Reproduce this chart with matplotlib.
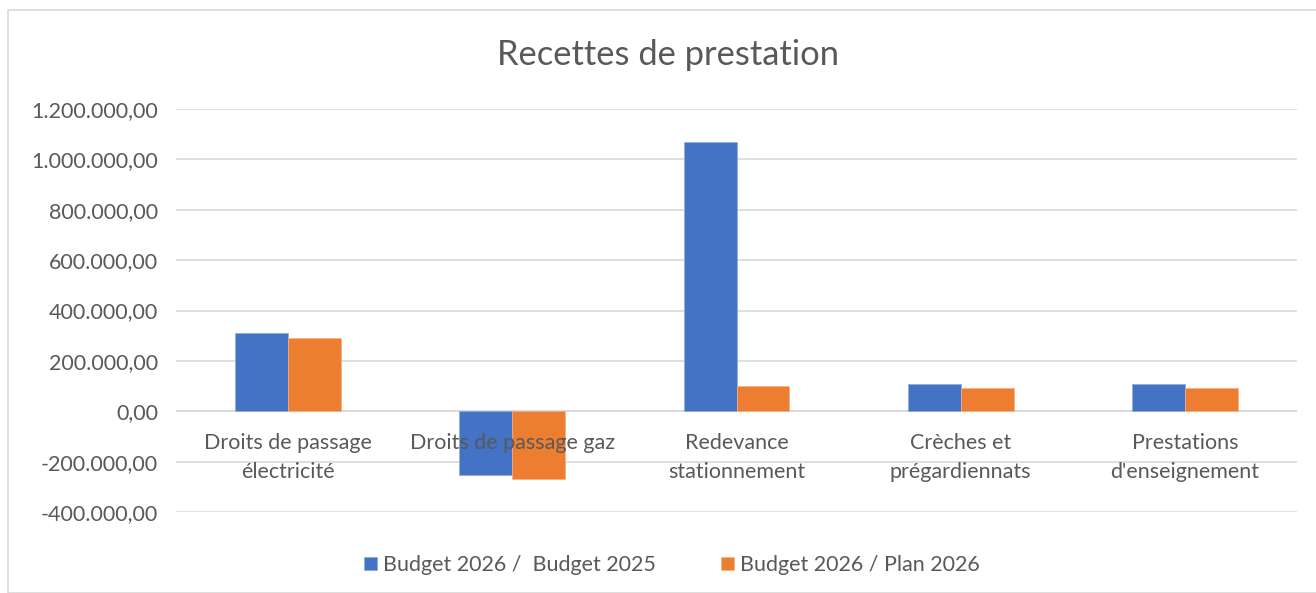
import matplotlib
matplotlib.use("Agg")
import matplotlib.pyplot as plt
import numpy as np
from matplotlib.patches import Rectangle
from matplotlib.ticker import FuncFormatter

categories = ["Droits de passage\nélectricité", "Droits de passage gaz",
              "Redevance\nstationnement", "Crèches et\nprégardiennats",
              "Prestations\nd'enseignement"]
series_names = ["Budget 2026 /  Budget 2025", "Budget 2026 / Plan 2026"]
budget_vs_budget = [310000, -253000, 1070000, 109000, 107000]
budget_vs_plan = [291000, -270000, 100000, 94000, 93000]
colors = ["#4472C4", "#ED7D31"]

plt.rcParams['font.family'] = ['Lato', 'DejaVu Sans']
TXT = "#595959"
GRID = "#D9D9D9"
FS = 15.5

fig = plt.figure(figsize=(13.16, 5.93), dpi=100)
fig.patches.append(Rectangle((8/1316, 0), 1.0, 1 - 10/593, transform=fig.transFigure,
                             fill=False, edgecolor=GRID, linewidth=1.2))
ax = fig.add_axes([176/1316, 1 - 512/593, (1297 - 176)/1316, (512 - 109)/593])

x = np.arange(len(categories))
w = 0.236
ax.bar(x - w/2, budget_vs_budget, w, color=colors[0], label=series_names[0], zorder=3,
       edgecolor="#8FAADC", linewidth=0.5)
ax.bar(x + w/2, budget_vs_plan, w, color=colors[1], label=series_names[1], zorder=3,
       edgecolor="#F4B183", linewidth=0.5)

ax.set_xlim(-0.5, len(categories) - 0.5)
ax.set_ylim(-400000, 1200000)
ax.set_yticks(np.arange(-400000, 1200001, 200000))

def fmt(v, pos):
    s = f"{abs(v):,.2f}".replace(",", "X").replace(".", ",").replace("X", ".")
    return ("-" if v < 0 else "") + s
ax.yaxis.set_major_formatter(FuncFormatter(fmt))
ax.set_axisbelow(True)
ax.grid(axis='y', color=GRID, linewidth=1.2, zorder=0)
for s in ['top', 'right', 'left', 'bottom']:
    ax.spines[s].set_visible(False)
ax.axhline(0, color=GRID, linewidth=1.2, zorder=1)
ax.set_xticks([])
ax.tick_params(axis='y', length=0, pad=13, labelsize=FS, labelcolor=TXT)

for xi, lab in zip(x, categories):
    ax.annotate(lab, xy=(xi, 0), xytext=(0, -15.5), textcoords='offset points',
                ha='center', va='top', fontsize=FS, color=TXT, linespacing=1.55,
                zorder=10, annotation_clip=False)

fig.text(668/1316, 1 - 55/593, "Recettes de prestation", ha='center', va='center',
         fontsize=24.8, color=TXT)

fig.legend(loc='center', bbox_to_anchor=(672/1316, 1 - 565/593), ncol=2, frameon=False,
           fontsize=FS, labelcolor=TXT, handlelength=0.6, handleheight=0.6,
           handletextpad=0.3, columnspacing=3.0)

fig.savefig("out.png", dpi=100)
